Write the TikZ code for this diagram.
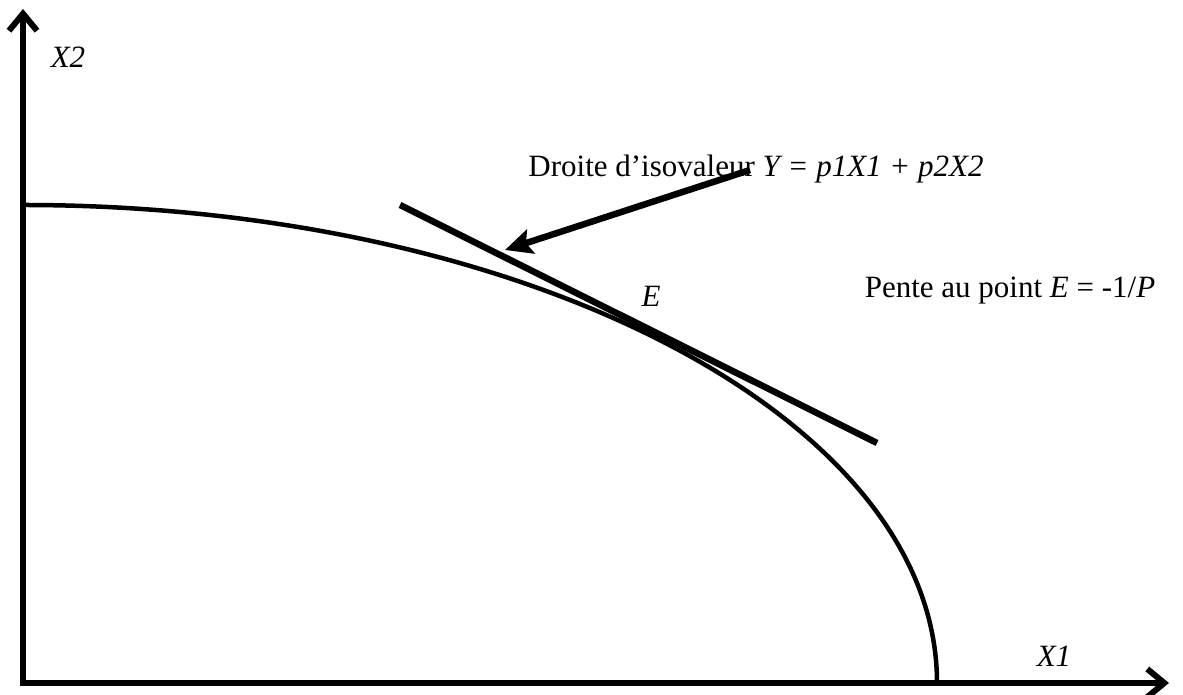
\documentclass[tikz,border=0pt]{standalone}
\usepackage{fontspec}
\setmainfont{Liberation Serif}
\usetikzlibrary{arrows.meta}
\begin{document}
\begin{tikzpicture}[x=1pt,y=1pt,
  axisline/.style={line width=6pt,line join=miter,
    {Straight Barb[length=17pt,width=28pt]}-{Straight Barb[length=17pt,width=28pt]}},
  curveline/.style={line width=4.5pt},
  tangentline/.style={line width=6.5pt},
  pointer/.style={line width=6.5pt,-{Stealth[length=27pt,width=25pt,inset=5pt]}},
  lbl/.style={font=\fontsize{31}{35}\selectfont,inner sep=0pt,anchor=base}]
\useasboundingbox (0,0) rectangle (1183,695);
% axes
\coordinate (O) at (23,12);
\coordinate (Ytip) at (23,686);
\coordinate (Xtip) at (1169,12);
\draw[axisline] (Ytip) -- (O) -- (Xtip);
% frontier
\coordinate (c0) at (23,490);
\draw[curveline] (c0) arc[start angle=90,end angle=0,x radius=914,y radius=478];
% tangent line
\coordinate (t1) at (400,490);
\coordinate (t2) at (877,252);
\draw[tangentline] (t1) -- (t2);
% labels
\node[lbl] (droite) at (756,518) {Droite d’isovaleur \textit{Y = p1X1 + p2X2}};
\node[lbl] (pente) at (1010,397) {Pente au point \textit{E} = -1/\textit{P}};
\node[lbl] (E) at (651,388) {\textit{E}};
\node[lbl] (x2) at (68,627) {\textit{X2}};
\node[lbl] (x1) at (1054,28) {\textit{X1}};
% pointer arrow
\coordinate (p1) at (750,525);
\coordinate (p2) at (505,445);
\draw[pointer] (p1) -- (p2);
\end{tikzpicture}
\end{document}
